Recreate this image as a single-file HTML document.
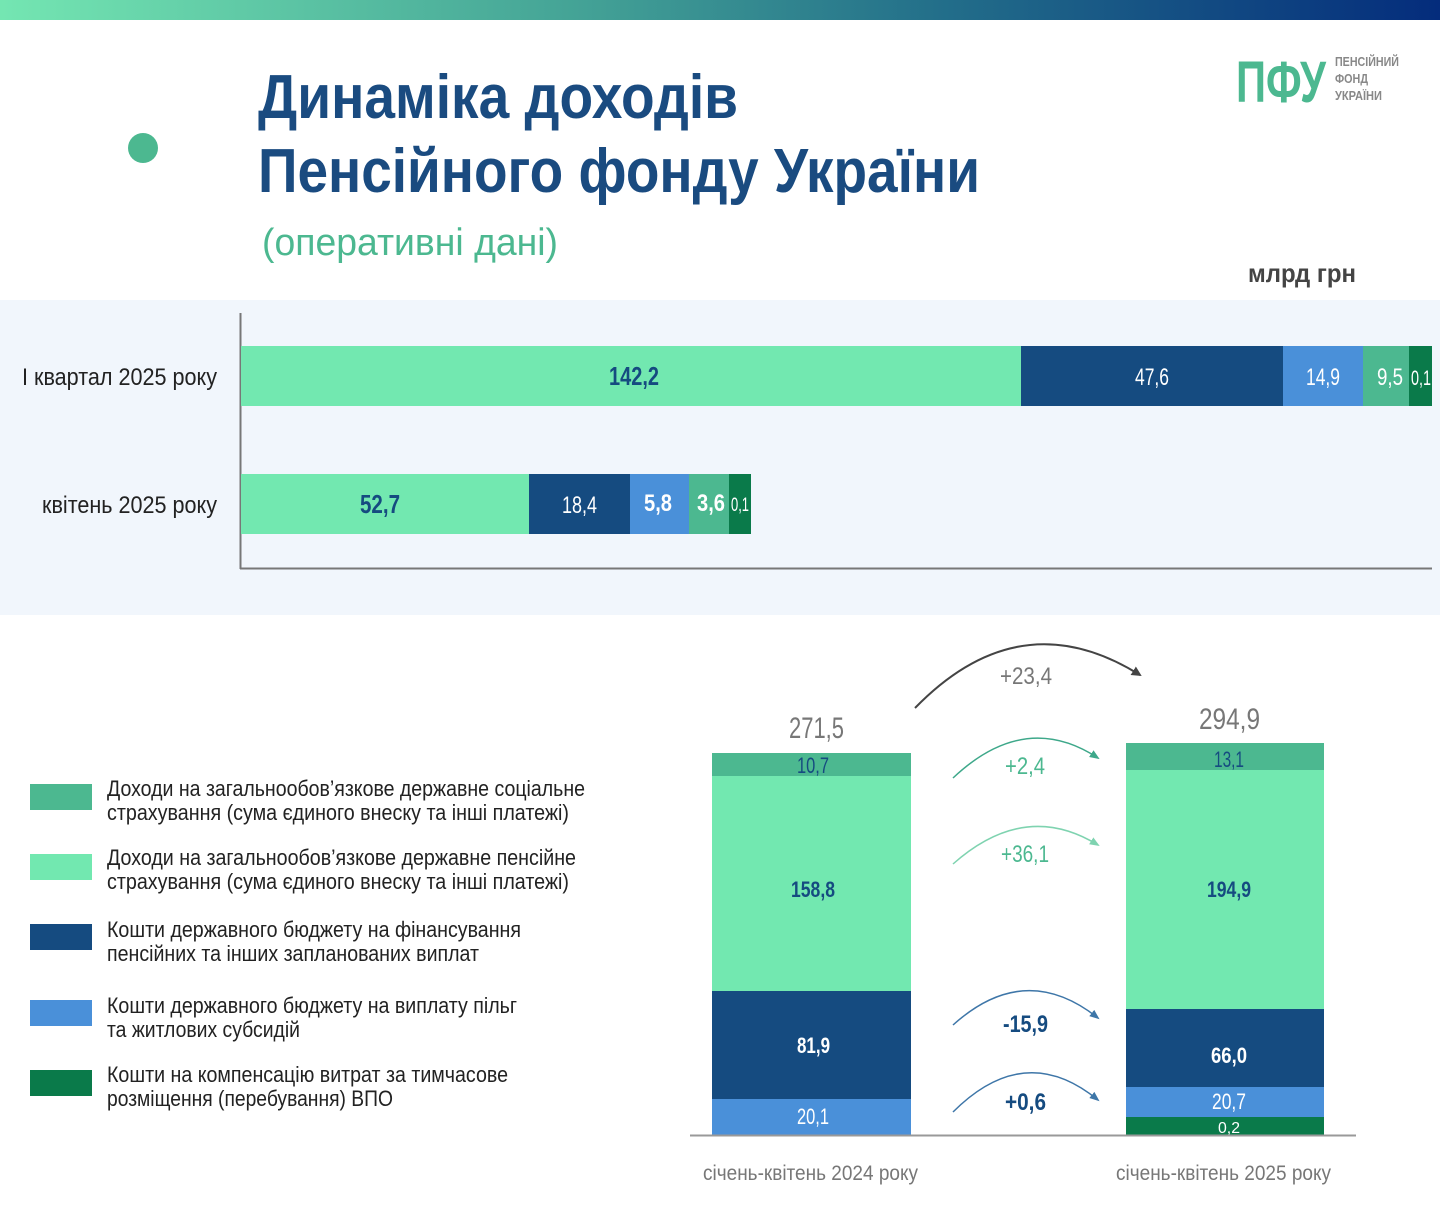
<!DOCTYPE html>
<html><head><meta charset="utf-8"><style>
html,body{margin:0;padding:0;background:#fff;}
svg{display:block;}
text{font-family:"Liberation Sans Narrow","Liberation Sans","DejaVu Sans",sans-serif;}
</style></head><body>
<svg width="1440" height="1206" viewBox="0 0 1440 1206" xmlns="http://www.w3.org/2000/svg">
<defs>
<linearGradient id="g" x1="0" x2="1" y1="0" y2="0">
<stop offset="0" stop-color="#74e6b2"/><stop offset="0.4" stop-color="#44a396"/><stop offset="0.65" stop-color="#236f8a"/><stop offset="1" stop-color="#042c7c"/>
</linearGradient>
<marker id="ad" markerWidth="10" markerHeight="10" refX="8" refY="5" orient="auto" markerUnits="userSpaceOnUse"><path d="M0,0 L10,5 L0,10 Z" fill="#444"/></marker>
<marker id="a1" markerWidth="10" markerHeight="10" refX="8" refY="5" orient="auto" markerUnits="userSpaceOnUse"><path d="M0,1 L10,5 L0,9 Z" fill="#3ea88a"/></marker>
<marker id="a2" markerWidth="10" markerHeight="10" refX="8" refY="5" orient="auto" markerUnits="userSpaceOnUse"><path d="M0,1 L10,5 L0,9 Z" fill="#7fd3b0"/></marker>
<marker id="a3" markerWidth="10" markerHeight="10" refX="8" refY="5" orient="auto" markerUnits="userSpaceOnUse"><path d="M0,1 L10,5 L0,9 Z" fill="#3e76a8"/></marker>
</defs>
<rect x="0" y="0" width="1440" height="20" fill="url(#g)"/>
<circle cx="143" cy="148" r="15" fill="#4cb890"/>
<text x="258" y="118" font-size="62" font-weight="bold" fill="#1a4b80" textLength="480" lengthAdjust="spacingAndGlyphs">Динаміка доходів</text>
<text x="258" y="192" font-size="62" font-weight="bold" fill="#1a4b80" textLength="722" lengthAdjust="spacingAndGlyphs">Пенсійного фонду України</text>
<text x="262" y="255" font-size="38" fill="#4cb890" textLength="296" lengthAdjust="spacingAndGlyphs">(оперативні дані)</text>
<text x="1236" y="102" font-size="58" font-weight="bold" fill="#4cb890" textLength="90" lengthAdjust="spacingAndGlyphs">ПФУ</text>
<text x="1335" y="66" font-size="13" font-weight="bold" fill="#888" textLength="64" lengthAdjust="spacingAndGlyphs">ПЕНСІЙНИЙ</text>
<text x="1335" y="83" font-size="13" font-weight="bold" fill="#888" textLength="33" lengthAdjust="spacingAndGlyphs">ФОНД</text>
<text x="1335" y="100" font-size="13" font-weight="bold" fill="#888" textLength="47" lengthAdjust="spacingAndGlyphs">УКРАЇНИ</text>
<text x="1356" y="282" font-size="26" font-weight="bold" fill="#444" text-anchor="end" textLength="108" lengthAdjust="spacingAndGlyphs">млрд грн</text>

<rect x="0" y="300" width="1440" height="315" fill="#f1f6fc"/>
<line x1="240.5" y1="313" x2="240.5" y2="569" stroke="#777" stroke-width="2"/>
<line x1="240" y1="568.5" x2="1432" y2="568.5" stroke="#777" stroke-width="2"/>
<text x="22" y="385" font-size="24" fill="#222" textLength="195" lengthAdjust="spacingAndGlyphs">І квартал 2025 року</text>
<text x="42" y="513" font-size="24" fill="#222" textLength="175" lengthAdjust="spacingAndGlyphs">квітень 2025 року</text>
<g>
<rect x="241" y="346" width="780" height="60" fill="#72e8b0"/>
<rect x="1021" y="346" width="262" height="60" fill="#154b80"/>
<rect x="1283" y="346" width="80" height="60" fill="#4a90d9"/>
<rect x="1363" y="346" width="46" height="60" fill="#4cb890"/>
<rect x="1409" y="346" width="23" height="60" fill="#0a7a4a"/>
<text x="609" y="385" font-size="26" font-weight="bold" fill="#154b80" textLength="50" lengthAdjust="spacingAndGlyphs">142,2</text>
<text x="1135" y="385" font-size="24" fill="#fff" textLength="34" lengthAdjust="spacingAndGlyphs">47,6</text>
<text x="1306" y="385" font-size="24" fill="#fff" textLength="34" lengthAdjust="spacingAndGlyphs">14,9</text>
<text x="1377" y="385" font-size="24" fill="#fff" textLength="26" lengthAdjust="spacingAndGlyphs">9,5</text>
<text x="1411" y="385" font-size="21" fill="#fff" textLength="20" lengthAdjust="spacingAndGlyphs">0,1</text>
<rect x="241" y="474" width="288" height="60" fill="#72e8b0"/>
<rect x="529" y="474" width="101" height="60" fill="#154b80"/>
<rect x="630" y="474" width="59" height="60" fill="#4a90d9"/>
<rect x="689" y="474" width="40" height="60" fill="#4cb890"/>
<rect x="729" y="474" width="22" height="60" fill="#0a7a4a"/>
<text x="360" y="513" font-size="26" font-weight="bold" fill="#154b80" textLength="40" lengthAdjust="spacingAndGlyphs">52,7</text>
<text x="562" y="513" font-size="24" fill="#fff" textLength="35" lengthAdjust="spacingAndGlyphs">18,4</text>
<text x="644" y="511" font-size="24" font-weight="bold" fill="#fff" textLength="28" lengthAdjust="spacingAndGlyphs">5,8</text>
<text x="697" y="511" font-size="24" font-weight="bold" fill="#fff" textLength="28" lengthAdjust="spacingAndGlyphs">3,6</text>
<text x="731" y="511" font-size="19" fill="#fff" textLength="18" lengthAdjust="spacingAndGlyphs">0,1</text>
</g>

<g font-size="22" fill="#222">
<rect x="30" y="784" width="62" height="26" fill="#4cb890"/>
<text x="107" y="796" textLength="478" lengthAdjust="spacingAndGlyphs">Доходи на загальнообов’язкове державне соціальне</text>
<text x="107" y="820" textLength="462" lengthAdjust="spacingAndGlyphs">страхування (сума єдиного внеску та інші платежі)</text>
<rect x="30" y="854" width="62" height="26" fill="#72e8b0"/>
<text x="107" y="865" textLength="469" lengthAdjust="spacingAndGlyphs">Доходи на загальнообов’язкове державне пенсійне</text>
<text x="107" y="889" textLength="462" lengthAdjust="spacingAndGlyphs">страхування (сума єдиного внеску та інші платежі)</text>
<rect x="30" y="924" width="62" height="26" fill="#154b80"/>
<text x="107" y="937" textLength="414" lengthAdjust="spacingAndGlyphs">Кошти державного бюджету на фінансування</text>
<text x="107" y="961" textLength="372" lengthAdjust="spacingAndGlyphs">пенсійних та інших запланованих виплат</text>
<rect x="30" y="1000" width="62" height="26" fill="#4a90d9"/>
<text x="107" y="1013" textLength="410" lengthAdjust="spacingAndGlyphs">Кошти державного бюджету на виплату пільг</text>
<text x="107" y="1037" textLength="193" lengthAdjust="spacingAndGlyphs">та житлових субсидій</text>
<rect x="30" y="1070" width="62" height="26" fill="#0a7a4a"/>
<text x="107" y="1082" textLength="401" lengthAdjust="spacingAndGlyphs">Кошти на компенсацію витрат за тимчасове</text>
<text x="107" y="1106" textLength="286" lengthAdjust="spacingAndGlyphs">розміщення (перебування) ВПО</text>
</g>

<rect x="712" y="753" width="199" height="23" fill="#4cb890"/>
<rect x="712" y="776" width="199" height="215" fill="#72e8b0"/>
<rect x="712" y="991" width="199" height="108" fill="#154b80"/>
<rect x="712" y="1099" width="199" height="36" fill="#4a90d9"/>
<text x="797" y="773" font-size="22" fill="#154b80" textLength="32" lengthAdjust="spacingAndGlyphs">10,7</text>
<text x="791" y="897" font-size="22" font-weight="bold" fill="#154b80" textLength="44" lengthAdjust="spacingAndGlyphs">158,8</text>
<text x="797" y="1053" font-size="22" font-weight="bold" fill="#fff" textLength="33" lengthAdjust="spacingAndGlyphs">81,9</text>
<text x="797" y="1124" font-size="22" fill="#fff" textLength="32" lengthAdjust="spacingAndGlyphs">20,1</text>
<text x="789" y="738" font-size="30" fill="#777" textLength="55" lengthAdjust="spacingAndGlyphs">271,5</text>

<rect x="1126" y="743" width="198" height="27" fill="#4cb890"/>
<rect x="1126" y="770" width="198" height="239" fill="#72e8b0"/>
<rect x="1126" y="1009" width="198" height="78" fill="#154b80"/>
<rect x="1126" y="1087" width="198" height="30" fill="#4a90d9"/>
<rect x="1126" y="1117" width="198" height="18" fill="#0a7a4a"/>
<text x="1214" y="767" font-size="22" fill="#154b80" textLength="30" lengthAdjust="spacingAndGlyphs">13,1</text>
<text x="1207" y="897" font-size="22" font-weight="bold" fill="#154b80" textLength="44" lengthAdjust="spacingAndGlyphs">194,9</text>
<text x="1211" y="1063" font-size="22" font-weight="bold" fill="#fff" textLength="36" lengthAdjust="spacingAndGlyphs">66,0</text>
<text x="1212" y="1109" font-size="22" fill="#fff" textLength="34" lengthAdjust="spacingAndGlyphs">20,7</text>
<text x="1218" y="1133" font-size="16" fill="#fff" textLength="22" lengthAdjust="spacingAndGlyphs">0,2</text>
<text x="1199" y="729" font-size="30" fill="#777" textLength="61" lengthAdjust="spacingAndGlyphs">294,9</text>

<line x1="690" y1="1135.5" x2="1356" y2="1135.5" stroke="#999" stroke-width="2"/>
<text x="703" y="1180" font-size="21" fill="#777" textLength="215" lengthAdjust="spacingAndGlyphs">січень-квітень 2024 року</text>
<text x="1116" y="1180" font-size="21" fill="#777" textLength="215" lengthAdjust="spacingAndGlyphs">січень-квітень 2025 року</text>

<path d="M915,708 Q1020,600 1140,675" fill="none" stroke="#444" stroke-width="2" marker-end="url(#ad)"/>
<text x="1000" y="684" font-size="24" fill="#777" textLength="52" lengthAdjust="spacingAndGlyphs">+23,4</text>
<path d="M953,778 Q1025,710 1098,758" fill="none" stroke="#3ea88a" stroke-width="1.5" marker-end="url(#a1)"/>
<text x="1005" y="774" font-size="24" fill="#4cb890" textLength="40" lengthAdjust="spacingAndGlyphs">+2,4</text>
<path d="M953,864 Q1025,800 1098,845" fill="none" stroke="#7fd3b0" stroke-width="1.5" marker-end="url(#a2)"/>
<text x="1001" y="862" font-size="24" fill="#4cb890" textLength="48" lengthAdjust="spacingAndGlyphs">+36,1</text>
<path d="M953,1025 Q1025,960 1098,1018" fill="none" stroke="#3e76a8" stroke-width="1.5" marker-end="url(#a3)"/>
<text x="1003" y="1032" font-size="24" font-weight="bold" fill="#154b80" textLength="45" lengthAdjust="spacingAndGlyphs">-15,9</text>
<path d="M953,1112 Q1025,1040 1098,1100" fill="none" stroke="#3e76a8" stroke-width="1.5" marker-end="url(#a3)"/>
<text x="1005" y="1110" font-size="24" font-weight="bold" fill="#154b80" textLength="41" lengthAdjust="spacingAndGlyphs">+0,6</text>
</svg>
</body></html>
